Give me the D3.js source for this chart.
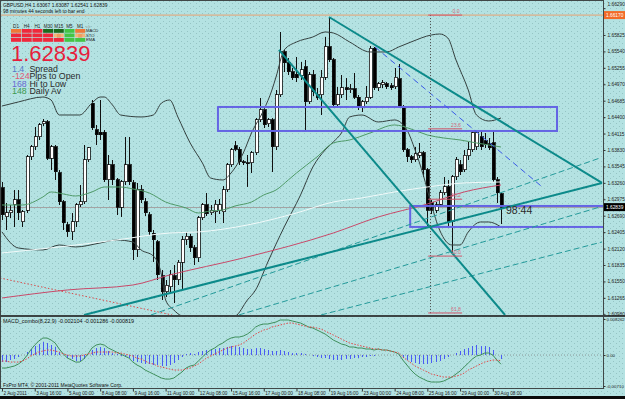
<!DOCTYPE html>
<html lang="en">
<head>
<meta charset="UTF-8">
<title>GBPUSD,H4</title>
<style>
  body { margin: 0; background: #b4e2e2; }
  svg { display: block; font-family: 'Liberation Sans', Arial, sans-serif; }
</style>
</head>
<body>
<svg width="625" height="399"></svg>
<script src="https://d3js.org/d3.v7.min.js"></script>
<script>
// ---- data ----
const symbolLine = "GBPUSD,H4 1.63067 1.63087 1.62541 1.62839";
const timerLine = "98 minutes 44 seconds left to bar end";
const timerText = "98:44";
const lastPriceText = "1.62839";

const timeLabels = ["2 Aug 2011","3 Aug 16:00","5 Aug 00:00","8 Aug 08:00","9 Aug 16:00","11 Aug 00:00",
  "12 Aug 08:00","15 Aug 16:00","17 Aug 00:00","18 Aug 08:00","19 Aug 16:00","23 Aug 00:00",
  "24 Aug 08:00","25 Aug 16:00","29 Aug 00:00","30 Aug 08:00"];
const timeTickBars = [0, 8, 16, 24, 32, 40, 48, 56, 64, 72, 80, 88, 96, 104, 112, 120];

const priceTicks = [1.60980, 1.61265, 1.61550, 1.61835, 1.62120, 1.62405, 1.62690, 1.62975, 1.63260,
  1.63545, 1.63830, 1.64115, 1.64400, 1.64685, 1.64970, 1.65255, 1.65540, 1.65825, 1.66290];
const macdTicks = [0.008262, 0, -0.0071];
const macdTickLabels = ["0.008262", "0.00", "-0.00710"];

const opens = [
1.63171,1.62668,1.62737,1.62876,1.62963,1.62581,1.62789,1.63709,1.63882,1.64056,
1.64281,1.64316,1.63691,1.63882,1.63431,1.62928,1.62529,1.62408,1.62581,1.62876,
1.62928,1.63657,1.64645,1.64177,1.64142,1.64142,1.63310,1.63570,1.63310,1.62841,
1.63275,1.63570,1.63258,1.62096,1.63136,1.62928,1.62703,1.62390,1.62234,1.61645,
1.61367,1.61454,1.61645,1.61575,1.61887,1.62269,1.62338,1.62130,1.61957,1.62651,
1.62876,1.62737,1.62755,1.62789,1.62755,1.63136,1.63570,1.63900,1.63847,1.63622,
1.63605,1.63605,1.63778,1.64351,1.64524,1.64281,1.64351,1.63882,1.64784,1.65530,
1.65339,1.65183,1.65148,1.65114,1.65270,1.64663,1.65131,1.64784,1.64784,1.65096,
1.65617,1.65391,1.64611,1.64784,1.64906,1.64871,1.64888,1.64749,1.64576,1.64663,
1.64749,1.65599,1.64906,1.64958,1.64975,1.64940,1.64923,1.65062,1.64576,1.63830,
1.63709,1.63657,1.63743,1.63778,1.63483,1.62911,1.62789,1.62893,1.63084,1.63188,
1.62581,1.63362,1.63570,1.63483,1.63726,1.63830,1.63882,1.64056,1.63986,1.63934,
1.63952,1.63310,1.63067];
const highs = [
1.63275,1.62911,1.62876,1.63136,1.63136,1.62789,1.63743,1.63917,1.64229,1.64298,
1.64368,1.64351,1.63917,1.63917,1.63483,1.62963,1.62581,1.62737,1.62911,1.63223,
1.63917,1.63882,1.64697,1.64264,1.64697,1.64177,1.63743,1.63657,1.63344,1.63310,
1.64056,1.64056,1.63310,1.63258,1.63223,1.62998,1.62755,1.62442,1.62269,1.61749,
1.61575,1.61749,1.61835,1.61922,1.62338,1.62408,1.62373,1.62182,1.62685,1.62911,
1.63084,1.62876,1.62963,1.62980,1.63206,1.63605,1.63865,1.63986,1.63882,1.63657,
1.63743,1.63813,1.64385,1.64732,1.64559,1.64385,1.64385,1.64871,1.65877,1.65565,
1.65426,1.65253,1.65443,1.65357,1.65391,1.65183,1.65218,1.64906,1.65218,1.65790,
1.66137,1.65426,1.64923,1.65131,1.65079,1.64975,1.65166,1.64784,1.64697,1.64940,
1.65634,1.65617,1.65010,1.65044,1.65010,1.64992,1.65253,1.65322,1.64611,1.63865,
1.63743,1.63882,1.63952,1.63813,1.63518,1.62963,1.62928,1.63136,1.63362,1.63310,
1.63396,1.63709,1.63657,1.63830,1.63969,1.64160,1.64177,1.64160,1.64125,1.64038,
1.64177,1.63362,1.63087];
const lows = [
1.62616,1.62442,1.62651,1.62495,1.62616,1.62495,1.62737,1.63657,1.63830,1.64004,
1.64246,1.63657,1.63483,1.63310,1.62876,1.62442,1.62321,1.62269,1.62495,1.62841,
1.62893,1.63622,1.64177,1.63917,1.64004,1.63275,1.62963,1.63223,1.62703,1.62668,
1.63223,1.63223,1.61922,1.61974,1.62911,1.62685,1.62356,1.61887,1.61575,1.61228,
1.61280,1.61367,1.61176,1.61488,1.61402,1.62182,1.62061,1.61835,1.61887,1.62616,
1.62685,1.62703,1.62564,1.62720,1.62564,1.63102,1.63535,1.63813,1.63570,1.63570,
1.63188,1.63431,1.63743,1.64316,1.64212,1.64229,1.63449,1.63830,1.64749,1.65183,
1.65131,1.65044,1.65010,1.65044,1.64177,1.64628,1.64767,1.64697,1.64437,1.65044,
1.65357,1.64559,1.64559,1.64732,1.64697,1.64819,1.64715,1.64524,1.64489,1.64628,
1.64715,1.64871,1.64854,1.64906,1.64888,1.64871,1.64888,1.64559,1.63795,1.63622,
1.63605,1.63622,1.63691,1.63362,1.62477,1.62720,1.62737,1.62841,1.63050,1.62495,
1.62061,1.63310,1.63396,1.63449,1.63657,1.63795,1.63830,1.63830,1.63865,1.63830,
1.63275,1.62911,1.62541];
const closes = [
1.62703,1.62737,1.62789,1.62963,1.62737,1.62755,1.63709,1.63882,1.64056,1.64264,
1.64316,1.63691,1.63882,1.63449,1.62928,1.62564,1.62408,1.62581,1.62876,1.62928,
1.63657,1.63865,1.64212,1.64090,1.64090,1.63310,1.63570,1.63310,1.62841,1.63275,
1.63570,1.63275,1.62096,1.63136,1.62963,1.62737,1.62408,1.62269,1.61662,1.61367,
1.61488,1.61662,1.61575,1.61887,1.62269,1.62338,1.62130,1.61957,1.62651,1.62876,
1.62720,1.62789,1.62893,1.62876,1.63136,1.63570,1.63830,1.63847,1.63622,1.63605,
1.63587,1.63778,1.64351,1.64524,1.64264,1.64351,1.63882,1.64784,1.65530,1.65339,
1.65183,1.65079,1.65079,1.65218,1.64663,1.65131,1.64836,1.64732,1.65096,1.65617,
1.65391,1.64611,1.64784,1.64906,1.64871,1.64888,1.64749,1.64576,1.64663,1.64749,
1.65599,1.64906,1.64975,1.64992,1.64923,1.64906,1.65096,1.64576,1.63830,1.63709,
1.63657,1.63761,1.63795,1.63483,1.62789,1.62789,1.62876,1.63084,1.63188,1.62581,
1.63362,1.63657,1.63449,1.63743,1.63830,1.64125,1.64125,1.63882,1.63917,1.63865,
1.63310,1.63084,1.62839];

// indicator readings: [bar, price]
const bbUpper = [[0,1.64593],[4,1.64663],[10,1.64749],[12,1.64697],[14,1.64437],[19,1.64437],[22,1.64645],
  [24,1.64749],[25,1.64749],[27,1.64611],[29,1.64437],[34,1.64403],[37,1.64437],[39,1.64645],[41,1.64697],
  [43,1.64403],[46,1.63952],[49,1.63605],[51,1.63344],[54,1.63310],[56,1.63431],[59,1.63778],[61,1.64125],
  [64,1.64524],[66,1.64871],[67,1.65096],[69,1.65565],[72,1.65703],[76,1.65790],[79,1.65877],[81,1.65860],
  [85,1.65703],[90,1.65530],[94,1.65530],[97,1.65617],[100,1.65703],[105,1.65825],[107,1.65842],
  [109,1.65773],[111,1.65391],[114,1.64871],[116,1.64437],[119,1.64333],[122,1.64385]];
const bbLower = [[0,1.62408],[4,1.62130],[10,1.62096],[14,1.62182],[18,1.62148],[24,1.62217],[28,1.62269],
  [32,1.62234],[34,1.62096],[37,1.61991],[39,1.61662],[40,1.61228],[42,1.61055],[44,1.60951],[48,1.60916],
  [53,1.60916],[57,1.60951],[60,1.61228],[62,1.61402],[65,1.61887],[69,1.62495],[73,1.63050],[76,1.63535],
  [79,1.63830],[81,1.63969],[83,1.64125],[85,1.64403],[88,1.64437],[92,1.64316],[96,1.64351],[99,1.64177],
  [101,1.63830],[103,1.63396],[105,1.62876],[107,1.62442],[110,1.62182],[112,1.62182],[114,1.62408],
  [117,1.62581],[119,1.62581],[122,1.62495]];
const maGreen = [[0,1.62876],[5,1.62876],[10,1.63015],[12,1.63102],[15,1.63067],[18,1.63032],[22,1.63102],
  [25,1.63188],[29,1.63188],[32,1.63154],[36,1.63084],[40,1.62928],[45,1.62824],[48,1.62737],[51,1.62772],
  [54,1.62789],[57,1.62859],[61,1.62928],[64,1.63050],[67,1.63136],[70,1.63310],[72,1.63431],[77,1.63709],
  [81,1.63952],[85,1.64004],[90,1.64125],[96,1.64264],[100,1.64194],[104,1.64090],[108,1.64038],
  [112,1.64004],[116,1.63952],[119,1.63917],[122,1.63882]];
const maWhite = [[0,1.62044],[14,1.62148],[28,1.62269],[41,1.62390],[48,1.62408],[60,1.62529],[72,1.62737],
  [81,1.62928],[88,1.62998],[96,1.63102],[104,1.63188],[113,1.63258],[122,1.63275]];
const maRed = [[0,1.61263],[16,1.61402],[32,1.61488],[41,1.61662],[59,1.61957],[81,1.62390],[92,1.62668],
  [104,1.62893],[113,1.63102],[122,1.63223]];

// hand drawn objects: [bar, price]
const supportLine = [[20.05,1.60968],[146.7,1.63258]];
const upperLine = [[79.95,1.66137],[146.7,1.63258]];
const steepLine = [[67.7,1.65565],[123.0,1.60968]];
const fanLines = [
  [[36.4,1.60968],[146.2,1.63691]],
  [[57.9,1.60968],[146.2,1.62841]],
  [[78.0,1.60968],[146.7,1.62234]]];
const blueDashed = [[91.2,1.65617],[131.8,1.63206]];
const redDotted = [[-0.5,1.61610],[41.6,1.60968]];
const zones = [
  {b0: 52.8, b1: 135.7, p0: 1.64576, p1: 1.64160},
  {b0: 99.8, b1: 147.5, p0: 1.62859, p1: 1.62495}];
const vLineBar = 104.6;
const alertPrice = 1.66170;
const alertText = "1.66170";
const fibHigh = 1.66170, fibLow = 1.57809;
const fibLevels = [0, 23.6, 38.2, 50.0, 61.8];
const fibBars = [104.2, 112.5];

const macdMain = [
-0.00298,-0.00298,-0.00275,-0.00252,-0.00206,-0.00138,-0.00023,0.00115,0.00229,0.00321,
0.00390,0.00390,0.00344,0.00275,0.00138,0.00023,-0.00069,-0.00115,-0.00161,-0.00161,
-0.00092,0.00023,0.00161,0.00229,0.00252,0.00229,0.00161,0.00115,0.00069,0.00023,
-0.00023,-0.00069,-0.00161,-0.00229,-0.00275,-0.00344,-0.00390,-0.00436,-0.00482,-0.00528,
-0.00551,-0.00551,-0.00528,-0.00459,-0.00390,-0.00298,-0.00252,-0.00229,-0.00138,-0.00046,
0.00046,0.00115,0.00161,0.00229,0.00275,0.00344,0.00390,0.00413,0.00413,0.00436,
0.00482,0.00551,0.00642,0.00688,0.00711,0.00711,0.00734,0.00757,0.00803,0.00803,
0.00803,0.00780,0.00757,0.00734,0.00688,0.00642,0.00619,0.00574,0.00528,0.00482,
0.00413,0.00344,0.00298,0.00252,0.00229,0.00184,0.00184,0.00161,0.00161,0.00138,
0.00138,0.00115,0.00138,0.00115,0.00115,0.00092,0.00069,0.00023,-0.00115,-0.00229,
-0.00344,-0.00436,-0.00505,-0.00551,-0.00596,-0.00619,-0.00619,-0.00619,-0.00596,-0.00551,
-0.00505,-0.00436,-0.00367,-0.00275,-0.00184,-0.00092,-0.00023,0.00000,0.00046,0.00046,
0.00000,-0.00115,-0.00210];
const macdSignal = [
-0.00138,-0.00138,-0.00161,-0.00161,-0.00161,-0.00138,-0.00092,-0.00023,0.00023,0.00069,
0.00092,0.00115,0.00115,0.00092,0.00069,0.00023,0.00000,-0.00023,-0.00023,-0.00023,
0.00000,0.00023,0.00046,0.00069,0.00069,0.00069,0.00069,0.00069,0.00046,0.00046,
0.00023,0.00000,-0.00023,-0.00069,-0.00092,-0.00138,-0.00184,-0.00206,-0.00252,-0.00275,
-0.00298,-0.00321,-0.00344,-0.00344,-0.00344,-0.00321,-0.00298,-0.00252,-0.00206,-0.00138,
-0.00069,-0.00023,0.00023,0.00069,0.00115,0.00161,0.00184,0.00206,0.00229,0.00275,
0.00344,0.00413,0.00482,0.00528,0.00574,0.00596,0.00642,0.00665,0.00688,0.00711,
0.00734,0.00734,0.00711,0.00688,0.00665,0.00642,0.00642,0.00619,0.00596,0.00551,
0.00505,0.00459,0.00413,0.00367,0.00321,0.00275,0.00252,0.00229,0.00206,0.00184,
0.00161,0.00138,0.00138,0.00115,0.00115,0.00092,0.00069,0.00046,-0.00046,-0.00115,
-0.00184,-0.00252,-0.00298,-0.00344,-0.00390,-0.00436,-0.00459,-0.00482,-0.00505,-0.00505,
-0.00505,-0.00482,-0.00459,-0.00413,-0.00344,-0.00298,-0.00252,-0.00206,-0.00161,-0.00138,
-0.00115,-0.00115,-0.00129];
const macdHist = [
-0.00160,-0.00160,-0.00114,-0.00091,-0.00045,0.00000,0.00069,0.00138,0.00206,0.00252,
0.00298,0.00275,0.00229,0.00183,0.00069,0.00000,-0.00069,-0.00092,-0.00138,-0.00138,
-0.00092,0.00000,0.00115,0.00160,0.00183,0.00160,0.00092,0.00046,0.00023,-0.00023,
-0.00046,-0.00069,-0.00138,-0.00160,-0.00183,-0.00206,-0.00206,-0.00230,-0.00230,-0.00253,
-0.00253,-0.00230,-0.00184,-0.00115,-0.00046,0.00023,0.00046,0.00023,0.00068,0.00092,
0.00115,0.00138,0.00138,0.00160,0.00160,0.00183,0.00206,0.00207,0.00184,0.00161,
0.00138,0.00138,0.00160,0.00160,0.00137,0.00115,0.00092,0.00092,0.00115,0.00092,
0.00069,0.00046,0.00046,0.00046,0.00023,0.00000,-0.00023,-0.00045,-0.00068,-0.00069,
-0.00092,-0.00115,-0.00115,-0.00115,-0.00092,-0.00091,-0.00068,-0.00068,-0.00045,-0.00046,
-0.00023,-0.00023,0.00000,0.00000,0.00000,0.00000,0.00000,-0.00023,-0.00069,-0.00114,
-0.00160,-0.00184,-0.00207,-0.00207,-0.00206,-0.00183,-0.00160,-0.00137,-0.00091,-0.00046,
0.00000,0.00046,0.00092,0.00138,0.00160,0.00206,0.00229,0.00206,0.00207,0.00184,
0.00115,0.00000,-0.00082];
const macdTitle = "MACD_combo(8,22,9) -0.002104 -0.001286 -0.000819";
const copyright = "FxPro MT4, \u00a9 2001-2011 MetaQuotes Software Corp.";

// signal table in the corner
const tableCols = ["D1","H4","H1","M30","M15","M5","M1"];
const tableRows = ["MACD","STO","EMA"];
const tableStates = [
  ["wd","d","d","su","su","u","wd"],
  ["d","d","d","d","n","u","n"],
  ["d","d","d","d","d","u","u"]];
const infoValues = ["1.4","-124","168","148"];
const infoLabels = ["Spread","Pips to Open","Hi to Low","Daily Av"];

// ---- styles ----
const stateColor = {d: "#f0283c", wd: "#f07838", u: "#44c444", su: "#1c6a1c", n: "#f6b478"};
const infoColor = ["#5a78c8", "#e05a78", "#6a6ad4", "#3c9a50"];

// ---- scales ----
const svg = d3.select("svg");
const x = d3.scaleLinear().domain([0, 146.7]).range([2, 602]);
const y = d3.scaleLinear().domain([1.60959, 1.66397]).range([315.5, 2]);
const ym = d3.scaleLinear().domain([-0.0071, 0.008262]).range([386, 319]);

const defs = svg.append("defs");
const pat = defs.append("pattern").attr("id", "dots")
  .attr("width", 6).attr("height", 5).attr("patternUnits", "userSpaceOnUse");
pat.append("rect").attr("x", 1).attr("y", 1).attr("width", 1).attr("height", 1).attr("fill", "#95c4c4");
pat.append("rect").attr("x", 4).attr("y", 3).attr("width", 1).attr("height", 1).attr("fill", "#95c4c4");
defs.append("clipPath").attr("id", "clipMain").append("rect")
  .attr("x", 1).attr("y", 1).attr("width", 602).attr("height", 314);
defs.append("clipPath").attr("id", "clipMacd").append("rect")
  .attr("x", 1).attr("y", 317).attr("width", 602).attr("height", 70);

svg.append("rect").attr("width", 625).attr("height", 399).attr("fill", "#b4e2e2");
svg.append("rect").attr("width", 625).attr("height", 399).attr("fill", "url(#dots)");

// ---- main panel ----
const main = svg.append("g").attr("clip-path", "url(#clipMain)");

const bars = closes.map((c, i) => ({i, o: opens[i], h: highs[i], l: lows[i], c}));

// bid line and alert line
main.append("line").attr("x1", 0).attr("x2", 603)
  .attr("y1", Math.round(y(closes[closes.length - 1])) + 0.5)
  .attr("y2", Math.round(y(closes[closes.length - 1])) + 0.5)
  .attr("stroke", "#a4a4a4").attr("stroke-width", 1);
main.append("line").attr("x1", 0).attr("x2", 603)
  .attr("y1", y(alertPrice)).attr("y2", y(alertPrice))
  .attr("stroke", "#e8a070").attr("stroke-width", 1);

// candles
const cg = main.append("g").attr("shape-rendering", "crispEdges");
cg.selectAll("line.wick").data(bars).join("line")
  .attr("class", "wick")
  .attr("x1", d => Math.round(x(d.i)) + 0.5).attr("x2", d => Math.round(x(d.i)) + 0.5)
  .attr("y1", d => y(d.h)).attr("y2", d => y(d.l))
  .attr("stroke", "#111").attr("stroke-width", 1);
cg.selectAll("rect.body").data(bars).join("rect")
  .attr("class", "body")
  .attr("x", d => Math.round(x(d.i)) - 1)
  .attr("y", d => y(Math.max(d.o, d.c)))
  .attr("width", 3)
  .attr("height", d => Math.max(1, Math.abs(y(d.o) - y(d.c))))
  .attr("fill", d => d.c >= d.o ? "#ffffff" : "#000000")
  .attr("stroke", "#111").attr("stroke-width", 0.8);

// indicators
const curve = d3.line().x(d => x(d[0])).y(d => y(d[1])).curve(d3.curveMonotoneX);
[[bbUpper, "#34403f"], [bbLower, "#34403f"], [maGreen, "#4f9a68"],
 [maWhite, "#f2fafa"], [maRed, "#c84a6a"]].forEach(([pts, col]) => {
  main.append("path").attr("d", curve(pts)).attr("fill", "none")
    .attr("stroke", col).attr("stroke-width", 1);
});

const seg = d3.line().x(d => x(d[0])).y(d => y(d[1]));
main.append("path").attr("d", seg(redDotted)).attr("fill", "none")
  .attr("stroke", "#d84a4a").attr("stroke-width", 1).attr("stroke-dasharray", "1.5,2");

// zones
zones.forEach(z => {
  main.append("rect")
    .attr("x", x(z.b0)).attr("y", y(z.p0))
    .attr("width", x(z.b1) - x(z.b0)).attr("height", y(z.p1) - y(z.p0))
    .attr("fill", "none").attr("stroke", "#6464e4").attr("stroke-width", 2);
});

// fan and trend lines
fanLines.forEach(l => {
  main.append("path").attr("d", seg(l)).attr("fill", "none")
    .attr("stroke", "#249a9a").attr("stroke-width", 1).attr("stroke-dasharray", "6,3");
});
main.append("path").attr("d", seg(blueDashed)).attr("fill", "none")
  .attr("stroke", "#3c5ce8").attr("stroke-width", 1).attr("stroke-dasharray", "6,4");
[supportLine, upperLine, steepLine].forEach(l => {
  main.append("path").attr("d", seg(l)).attr("fill", "none")
    .attr("stroke", "#0c8a8a").attr("stroke-width", 2);
});

// vertical dotted line
main.append("line")
  .attr("x1", Math.round(x(vLineBar)) + 0.5).attr("x2", Math.round(x(vLineBar)) + 0.5)
  .attr("y1", y(alertPrice)).attr("y2", 316)
  .attr("stroke", "#4a4a4a").attr("stroke-width", 1).attr("stroke-dasharray", "1,2");

// fibonacci levels
fibLevels.forEach(lv => {
  const p = fibHigh - (fibHigh - fibLow) * lv / 100;
  main.append("line").attr("x1", x(fibBars[0])).attr("x2", x(fibBars[1]))
    .attr("y1", y(p)).attr("y2", y(p))
    .attr("stroke", "#d05468").attr("stroke-width", 1);
  main.append("text").attr("x", x(111)).attr("y", y(p) - 2)
    .attr("text-anchor", "middle").attr("font-size", 5).attr("fill", "#d4687a")
    .text(lv.toFixed(1));
});

// timer label
svg.append("text").attr("x", x(122) + 5).attr("y", y(closes[closes.length - 1]) + 7)
  .attr("font-size", 10.5).attr("fill", "#2a2a2a").text(timerText);

// ---- MACD panel ----
const mg = svg.append("g").attr("clip-path", "url(#clipMacd)");
mg.append("line").attr("x1", 0).attr("x2", 603).attr("y1", ym(0)).attr("y2", ym(0))
  .attr("stroke", "#8a9a9a").attr("stroke-dasharray", "1,2");
mg.append("g").attr("shape-rendering", "crispEdges")
  .selectAll("line").data(macdHist).join("line")
  .attr("x1", (d, i) => Math.round(x(i)) + 0.5).attr("x2", (d, i) => Math.round(x(i)) + 0.5)
  .attr("y1", ym(0)).attr("y2", d => ym(d))
  .attr("stroke", "#4a5cf4").attr("stroke-width", 1);
const mline = d3.line().x((d, i) => x(i)).y(d => ym(d));
mg.append("path").attr("d", mline(macdMain)).attr("fill", "none")
  .attr("stroke", "#3f8f5c").attr("stroke-width", 1);
mg.append("path").attr("d", mline(macdSignal)).attr("fill", "none")
  .attr("stroke", "#e24848").attr("stroke-width", 1).attr("stroke-dasharray", "1.5,1.5");

// ---- frames ----
svg.append("line").attr("x1", 0).attr("x2", 603).attr("y1", 0.5).attr("y2", 0.5).attr("stroke", "#404848");
svg.append("line").attr("x1", 0.5).attr("x2", 0.5).attr("y1", 0).attr("y2", 388).attr("stroke", "#404848");
svg.append("rect").attr("x", 0).attr("y", 315).attr("width", 625).attr("height", 2).attr("fill", "#3c4444");
svg.append("line").attr("x1", 603.5).attr("x2", 603.5).attr("y1", 0).attr("y2", 389).attr("stroke", "#404848");
svg.append("line").attr("x1", 0).attr("x2", 604).attr("y1", 388.5).attr("y2", 388.5).attr("stroke", "#404848");
svg.append("rect").attr("x", 0).attr("y", 396).attr("width", 625).attr("height", 3).attr("fill", "#0a0a0a");

// ---- axes ----
const priceAxis = svg.append("g").attr("transform", "translate(603.5,0)")
  .call(d3.axisRight(y).tickValues(priceTicks).tickSize(2).tickPadding(2)
    .tickFormat(d3.format(".5f")));
priceAxis.select(".domain").remove();
priceAxis.selectAll("line").attr("stroke", "#333");
priceAxis.selectAll("text").attr("font-size", 4.8).attr("fill", "#222")
  .attr("font-family", "'Liberation Sans', Arial, sans-serif")
  .filter(d => d === 1.6629).attr("dy", "-0.5em");

const macdAxis = svg.append("g").attr("transform", "translate(603.5,0)")
  .call(d3.axisRight(ym).tickValues(macdTicks).tickSize(2).tickPadding(1)
    .tickFormat((d, i) => macdTickLabels[i]));
macdAxis.select(".domain").remove();
macdAxis.selectAll("line").attr("stroke", "#333");
macdAxis.selectAll("text").attr("font-size", 4.4).attr("fill", "#222")
  .attr("font-family", "'Liberation Sans', Arial, sans-serif");

const timeAxis = svg.append("g").attr("transform", "translate(0,388.5)")
  .call(d3.axisBottom(x).tickValues(timeTickBars).tickSize(3).tickPadding(1)
    .tickFormat((d, i) => timeLabels[i]));
timeAxis.select(".domain").remove();
timeAxis.selectAll("line").attr("stroke", "#333");
timeAxis.selectAll("text").attr("font-size", 4.7).attr("fill", "#222")
  .attr("text-anchor", "start").attr("x", 1).attr("y", 3)
  .attr("font-family", "'Liberation Sans', Arial, sans-serif");

// price boxes on the axis
function axisBox(price, fill, txt, txtColor) {
  const cy = y(price);
  svg.append("rect").attr("x", 604).attr("y", cy - 4).attr("width", 21).attr("height", 8).attr("fill", fill);
  svg.append("text").attr("x", 606).attr("y", cy + 1.8).attr("font-size", 4.8)
    .attr("fill", txtColor).text(txt);
}
axisBox(alertPrice, "#f26a26", alertText, "#fff");
axisBox(closes[closes.length - 1], "#000", lastPriceText, "#fff");

// ---- texts ----
svg.append("text").attr("x", 3).attr("y", 7).attr("font-size", 4.9).attr("fill", "#111").text(symbolLine);
svg.append("text").attr("x", 3).attr("y", 12.5).attr("font-size", 4.9).attr("fill", "#111").text(timerLine);
svg.append("text").attr("x", 3).attr("y", 323).attr("font-size", 5.4).attr("fill", "#111").text(macdTitle);
svg.append("text").attr("x", 3).attr("y", 387).attr("font-size", 5).attr("fill", "#111").text(copyright);

// signal table
const tbl = svg.append("g");
tableCols.forEach((c, j) => {
  tbl.append("text").attr("x", 16 + j * 10.7).attr("y", 27.5).attr("text-anchor", "middle")
    .attr("font-size", 4.6).attr("fill", "#222").text(c);
});
tbl.append("text").attr("x", 86).attr("y", 27.5).attr("font-size", 4.4).attr("fill", "#8a9a9a").text("clr");
tableRows.forEach((r, k) => {
  tableStates[k].forEach((s, j) => {
    tbl.append("rect").attr("x", 11 + j * 10.7).attr("y", 29 + k * 4.5)
      .attr("width", 10).attr("height", 3.8).attr("fill", stateColor[s]);
    if (s === "n") {
      tbl.append("text").attr("x", 16 + j * 10.7).attr("y", 32.2 + k * 4.5).attr("text-anchor", "middle")
        .attr("font-size", 3.6).attr("fill", "#d86a20").text("||||");
    }
  });
  tbl.append("text").attr("x", 86).attr("y", 32.3 + k * 4.5).attr("font-size", 4.2)
    .attr("fill", "#222").text(r);
});

svg.append("text").attr("x", 11).attr("y", 61).attr("font-size", 22).attr("fill", "#e61e3c")
  .text(lastPriceText);

infoValues.forEach((v, k) => {
  svg.append("text").attr("x", 12).attr("y", 72 + k * 7.3).attr("font-size", 8.8)
    .attr("fill", infoColor[k]).text(v);
  svg.append("text").attr("x", 29.5).attr("y", 72 + k * 7.3).attr("font-size", 8.8)
    .attr("fill", "#2a2a2a").text(infoLabels[k]);
});
</script>
</body>
</html>
